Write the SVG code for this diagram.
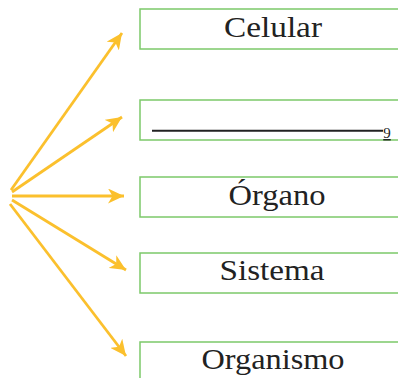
<svg xmlns="http://www.w3.org/2000/svg" width="398" height="378" viewBox="0 0 398 378">
<style>
.box{fill:#fff;stroke:#7cc96a;stroke-width:1.5}
.lbl{font-size:30px;fill:#222;text-anchor:middle}
.arr{stroke:#fbc02d;stroke-width:2.8;fill:none;marker-end:url(#ah)}
</style>
<defs>
<marker id="ah" markerUnits="userSpaceOnUse" markerWidth="17" markerHeight="15" refX="16" refY="7.5" orient="auto">
<path d="M0,0 L16,7.5 L0,15 L4.5,7.5 z" fill="#fbc02d"/>
</marker>
</defs>
<g id="connectors">
<line class="arr" x1="11" y1="190" x2="122" y2="33"/>
<line class="arr" x1="12" y1="192" x2="122" y2="117"/>
<line class="arr" x1="12" y1="196" x2="124" y2="196"/>
<line class="arr" x1="12" y1="200" x2="126" y2="270"/>
<line class="arr" x1="10" y1="204" x2="126" y2="356"/>
</g>
<g id="celular">
<rect class="box" x="140" y="9" width="262" height="40"/>
<text class="lbl" font-family="Liberation Serif, Times New Roman, serif" x="273" y="37" textLength="98" lengthAdjust="spacingAndGlyphs">Celular</text>
</g>
<g id="blank">
<rect class="box" x="140" y="100" width="262" height="40"/>
<line x1="152" y1="130.7" x2="383" y2="130.7" stroke="#222" stroke-width="2"/>
<text x="387" y="138" font-family="Liberation Serif, Times New Roman, serif" font-size="15" fill="#222" text-anchor="middle" text-decoration="underline">9</text>
</g>
<g id="organo">
<rect class="box" x="140" y="177" width="262" height="40"/>
<text class="lbl" font-family="Liberation Serif, Times New Roman, serif" x="277" y="205" textLength="97" lengthAdjust="spacingAndGlyphs">Órgano</text>
</g>
<g id="sistema">
<rect class="box" x="140" y="253" width="262" height="40"/>
<text class="lbl" font-family="Liberation Serif, Times New Roman, serif" x="272" y="280" textLength="105" lengthAdjust="spacingAndGlyphs">Sistema</text>
</g>
<g id="organismo">
<rect class="box" x="140" y="342" width="262" height="40"/>
<text class="lbl" font-family="Liberation Serif, Times New Roman, serif" x="273" y="369" textLength="143" lengthAdjust="spacingAndGlyphs">Organismo</text>
</g>
</svg>
